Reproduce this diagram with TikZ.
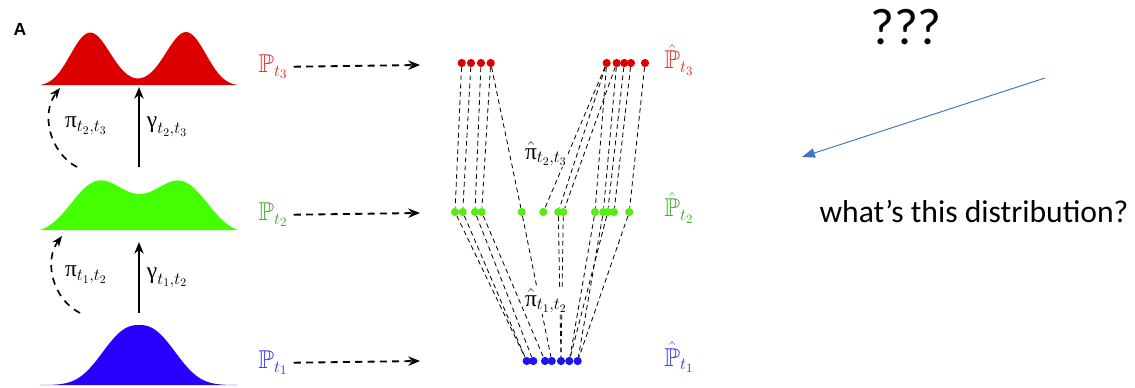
\documentclass[tikz,border=0pt]{standalone}
\usepackage{amssymb}
\usepackage{amsmath}
\usepackage{fontspec}
\usepackage{tikz}
\usetikzlibrary{arrows.meta}
\newfontfamily\grk{Liberation Serif}
\newfontfamily\notefont{Carlito}
\newfontfamily\panelfont{Liberation Sans}
\pgfdeclarelayer{edgelayer}
\pgfdeclarelayer{nodelayer}
\pgfsetlayers{edgelayer,nodelayer,main}
\definecolor{dred}{RGB}{220,0,0}
\definecolor{lime}{RGB}{68,255,0}
\definecolor{dblue}{RGB}{40,0,255}
\definecolor{ptred}{RGB}{230,40,40}
\definecolor{ptgreen}{RGB}{60,170,40}
\definecolor{ptblue}{RGB}{50,50,255}
\definecolor{dotgreen}{RGB}{90,235,20}
\definecolor{dotblue}{RGB}{30,20,240}
\definecolor{qblue}{RGB}{68,114,196}
\tikzstyle{sample}=[circle, inner sep=0pt, minimum size=7pt, draw=none]
\tikzstyle{coupling}=[-, draw=black, dash pattern=on 4pt off 3pt, line width=0.7pt]
\tikzstyle{embed}=[-{Stealth[length=10pt,width=8pt]}, draw=black, dash pattern=on 6pt off 4.5pt, line width=1.6pt, shorten <=4pt]
\tikzstyle{push}=[-{Stealth[length=10pt,width=8pt]}, draw=black, line width=1.6pt]
\tikzstyle{plan}=[-{Stealth[length=9pt,width=7pt]}, draw=black, dash pattern=on 6pt off 5pt, line width=1.4pt]
\tikzstyle{lab}=[font=\fontsize{20}{22}\selectfont, inner sep=1pt]
\tikzstyle{dist}=[font=\fontsize{22}{24}\selectfont, inner sep=1pt]
\newcommand{\Pt}[1]{\mathbb{P}_{t_{#1}}}
\newcommand{\Phat}[1]{\hat{\mathbb{P}}_{t_{#1}}}
\newcommand{\up}[1]{\mbox{\grk #1}}

\begin{document}
\begin{tikzpicture}[x=0.03cm, y=-0.03cm]
            \useasboundingbox (0,0) rectangle (1135,388);
            % densities on the left
            \fill [dred] (40,85) -- plot [domain=40:237, samples=120]
                (\x, {85 - 56*(exp(-((\x-88)/29.7)^2) + exp(-((\x-188)/29.7)^2))*(1 - ((\x-139)/99)^4)}) -- (237,85) -- cycle;
            \fill [lime] (40,230) -- plot [domain=40:237, samples=120]
                (\x, {230 - 50*(exp(-((\x-97)/42)^2) + exp(-((\x-182)/42)^2))*(1 - ((\x-139)/99)^4)}) -- (237,230) -- cycle;
            \fill [dblue] (40,385) -- plot [domain=40:237, samples=120]
                (\x, {385 - 60*exp(-(abs(\x-139)/45.4)^2.4)*(1 - ((\x-139)/99)^4)}) -- (237,385) -- cycle;

            \begin{pgfonlayer}{nodelayer}
                \node [font=\panelfont\bfseries\fontsize{15}{16}\selectfont] (panel) at (20,29) {A};

                \coordinate (gam1s) at (139,313);
                \coordinate (gam1e) at (139,242);
                \coordinate (gam2s) at (139,167);
                \coordinate (gam2e) at (139,87);
                \coordinate (pi1s) at (80,313);
                \coordinate (pi1e) at (62,236);
                \coordinate (pi2s) at (77,167);
                \coordinate (pi2e) at (60,88);

                \node [style=dist, text=ptred] (P3) at (273,67) {$\Pt{3}$};
                \node [style=dist, text=ptgreen] (P2) at (273,215) {$\Pt{2}$};
                \node [style=dist, text=ptblue] (P1) at (273,363) {$\Pt{1}$};
                \coordinate (e3) at (420,65);
                \coordinate (e2) at (420,213);
                \coordinate (e1) at (420,361);

                \node [style=dist, text=ptred] (H3) at (679,60) {$\Phat{3}$};
                \node [style=dist, text=ptgreen] (H2) at (679,208) {$\Phat{2}$};
                \node [style=dist, text=ptblue] (H1) at (679,357) {$\Phat{1}$};

                \node [style=sample, fill=dred] (r1) at (461.7,63) {};
                \node [style=sample, fill=dred] (r2) at (471,63) {};
                \node [style=sample, fill=dred] (r3) at (481,63) {};
                \node [style=sample, fill=dred] (r4) at (490.7,63) {};
                \node [style=sample, fill=dred] (r5) at (606.7,63) {};
                \node [style=sample, fill=dred] (r6) at (616.7,63) {};
                \node [style=sample, fill=dred] (r7) at (624.3,63) {};
                \node [style=sample, fill=dred] (r8) at (631,63) {};
                \node [style=sample, fill=dred] (r9) at (645,63) {};

                \node [style=sample, fill=dotgreen] (g1) at (455,212) {};
                \node [style=sample, fill=dotgreen] (g2) at (462.7,212) {};
                \node [style=sample, fill=dotgreen] (g3) at (475,212) {};
                \node [style=sample, fill=dotgreen] (g4) at (481.7,212) {};
                \node [style=sample, fill=dotgreen] (g5) at (521.7,212) {};
                \node [style=sample, fill=dotgreen] (g6) at (543.3,212) {};
                \node [style=sample, fill=dotgreen] (g7) at (558.3,212) {};
                \node [style=sample, fill=dotgreen] (g8) at (563.3,212) {};
                \node [style=sample, fill=dotgreen] (g9) at (595,212) {};
                \node [style=sample, fill=dotgreen] (g10) at (603.3,212) {};
                \node [style=sample, fill=dotgreen] (g11) at (607.7,212) {};
                \node [style=sample, fill=dotgreen] (g12) at (614,212) {};
                \node [style=sample, fill=dotgreen] (g13) at (629.3,212) {};

                \node [style=sample, fill=dotblue] (b1) at (526.7,361) {};
                \node [style=sample, fill=dotblue] (b2) at (533.3,361) {};
                \node [style=sample, fill=dotblue] (b3) at (545,361) {};
                \node [style=sample, fill=dotblue] (b4) at (551.7,361) {};
                \node [style=sample, fill=dotblue] (b5) at (561,361) {};
                \node [style=sample, fill=dotblue] (b6) at (569.3,361) {};
                \node [style=sample, fill=dotblue] (b7) at (577.7,361) {};

                \node [style=lab, fill=white, inner sep=0.5pt] (pihat23) at (546,154) {$\hat{\up{π}}_{t_2,t_3}$};
                \node [style=lab, fill=white, inner sep=0.5pt] (pihat12) at (546,301) {$\hat{\up{π}}_{t_1,t_2}$};

                \node [font=\notefont\fontsize{44}{48}\selectfont] (qmarks) at (906,27) {???};
                \node [font=\notefont\fontsize{27}{30}\selectfont] (question) at (974,211) {what’s this distribution?};
                \coordinate (qstart) at (1045,78);
                \coordinate (qend) at (802,157);
            \end{pgfonlayer}

            \begin{pgfonlayer}{edgelayer}
                \draw [style=push] (gam1s) to node [style=lab, right=5pt] {$\up{γ}_{t_1,t_2}$} (gam1e);
                \draw [style=push] (gam2s) to node [style=lab, right=5pt] {$\up{γ}_{t_2,t_3}$} (gam2e);
                \draw [style=plan, bend left=50] (pi1s) to (pi1e);
                \draw [style=plan, bend left=50] (pi2s) to (pi2e);
                \node [style=lab] (pi12) at (86,275) {$\up{π}_{t_1,t_2}$};
                \node [style=lab] (pi23) at (86,126) {$\up{π}_{t_2,t_3}$};

                \draw [style=embed] (P3) to (e3);
                \draw [style=embed] (P2) to (e2);
                \draw [style=embed] (P1) to (e1);

                \draw [style=coupling] (r1) to (g1);
                \draw [style=coupling] (r2) to (g2);
                \draw [style=coupling] (r3) to (g3);
                \draw [style=coupling] (r4) to (g4);
                \draw [style=coupling] (r4) to (g5);
                \draw [style=coupling] (r5) to (g6);
                \draw [style=coupling] (r5) to (g7);
                \draw [style=coupling] (r6) to (g8);
                \draw [style=coupling] (r5) to (g9);
                \draw [style=coupling] (r6) to (g10);
                \draw [style=coupling] (r7) to (g11);
                \draw [style=coupling] (r8) to (g12);
                \draw [style=coupling] (r9) to (g13);

                \draw [style=coupling] (g1) to (b1);
                \draw [style=coupling] (g2) to (b1);
                \draw [style=coupling] (g3) to (b2);
                \draw [style=coupling] (g4) to (b3);
                \draw [style=coupling] (g5) to (b4);
                \draw [style=coupling] (g7) to (b5);
                \draw [style=coupling] (g8) to (b5);
                \draw [style=coupling] (g9) to (b6);
                \draw [style=coupling] (g10) to (b7);
                \draw [style=coupling] (g11) to (b6);
                \draw [style=coupling] (g13) to (b7);

                \draw [-{Triangle[length=11pt,width=8pt]}, draw=qblue, fill=qblue, line width=0.8pt] (qstart) to (qend);
            \end{pgfonlayer}
        \end{tikzpicture}
\end{document}
